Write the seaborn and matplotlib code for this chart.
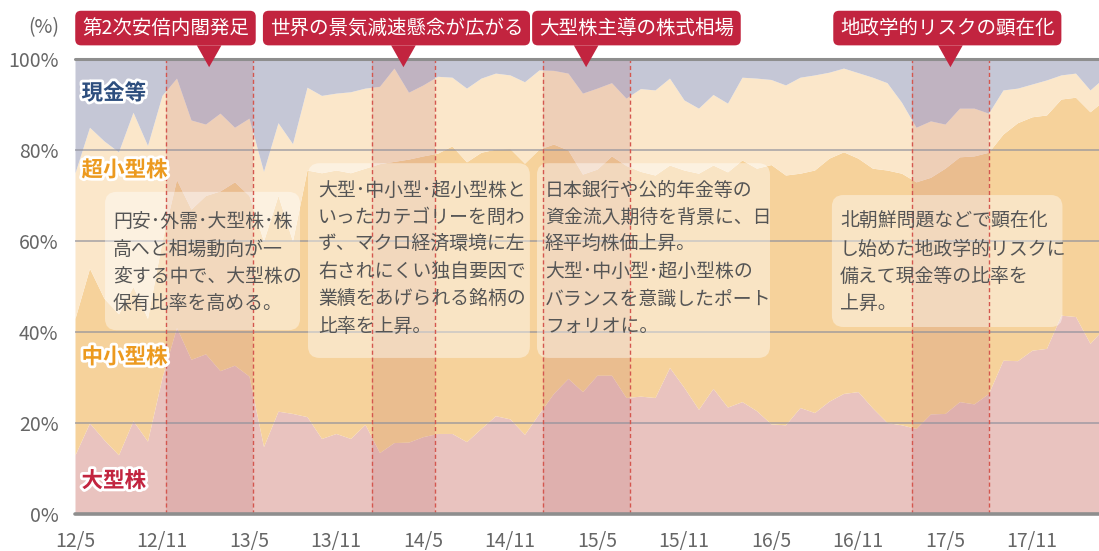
import numpy as np
import pandas as pd
import matplotlib.pyplot as plt
import matplotlib.patheffects as pe
from matplotlib.patches import FancyBboxPatch, Polygon
import seaborn as sns

# monthly allocation (%), 2012/5 - 2018/4 (last month is cut by the right edge)
months = pd.period_range('2012-05', periods=72, freq='M')
large = [13.0, 20.0, 16.3, 13.0, 20.5, 16.0, 30.0, 41.0, 34.0, 35.2, 31.5, 32.7,
         30.3, 14.8, 22.6, 22.1, 21.4, 16.6, 17.7, 16.6, 19.7, 13.5, 15.7, 15.8,
         17.0, 17.7, 17.7, 15.9, 18.8, 21.6, 20.9, 17.5, 22.1, 26.5, 29.8, 26.9,
         30.5, 30.5, 25.6, 25.9, 25.6, 32.2, 27.8, 23.0, 27.6, 23.5, 24.7, 22.7,
         19.8, 19.6, 23.4, 22.3, 24.8, 26.5, 26.9, 23.3, 20.1, 19.6, 18.8, 22.0,
         22.1, 24.7, 24.2, 26.5, 33.8, 33.7, 36.0, 36.4, 43.7, 43.4, 37.5, 41.0]
mid_small = [30.0, 34.0, 31.1, 31.0, 29.5, 27.0, 30.0, 32.5, 33.0, 34.8, 39.5, 40.3,
             39.7, 45.2, 47.4, 37.9, 54.2, 58.4, 57.9, 58.4, 56.3, 63.5, 61.8, 62.2,
             61.7, 61.6, 63.2, 61.5, 60.7, 58.6, 59.4, 59.6, 58.1, 54.8, 50.2, 47.8,
             45.3, 48.2, 51.0, 49.4, 48.9, 44.5, 47.8, 51.9, 49.1, 51.7, 53.1, 53.3,
             57.0, 54.9, 51.5, 53.3, 53.4, 53.1, 51.3, 52.7, 55.5, 55.3, 54.2, 52.0,
             53.9, 53.8, 54.5, 53.0, 49.7, 52.3, 51.3, 51.3, 47.5, 48.2, 50.9, 50.0]
micro = [32.0, 31.0, 34.6, 35.6, 38.3, 38.0, 32.0, 22.3, 19.6, 15.7, 17.1, 12.0,
         17.0, 15.3, 16.0, 21.4, 18.2, 17.0, 16.9, 17.8, 17.6, 17.0, 20.5, 14.7,
         15.6, 16.9, 15.1, 16.2, 16.3, 16.7, 16.2, 17.9, 17.4, 16.2, 16.9, 17.8,
         17.8, 16.1, 14.8, 18.2, 18.7, 19.1, 15.4, 14.3, 15.5, 15.1, 18.2, 19.8,
         18.7, 19.8, 21.1, 20.9, 18.9, 18.4, 18.8, 20.0, 19.2, 15.6, 12.0, 12.4,
         9.7, 10.7, 10.5, 8.6, 9.7, 7.6, 7.2, 7.7, 5.3, 5.3, 4.8, 5.0]
cash = [25.0, 15.0, 18.0, 20.4, 11.7, 19.0, 8.0, 4.2, 13.4, 14.3, 11.9, 15.0,
        13.0, 24.7, 14.0, 18.6, 6.2, 8.0, 7.5, 7.2, 6.4, 6.0, 2.0, 7.3,
        5.7, 3.8, 4.0, 6.4, 4.2, 3.1, 3.5, 5.0, 2.4, 2.5, 3.1, 7.5,
        6.4, 5.2, 8.6, 6.5, 6.8, 4.2, 9.0, 10.8, 7.8, 9.7, 4.0, 4.2,
        4.5, 5.7, 4.0, 3.5, 2.9, 2.0, 3.0, 4.0, 5.2, 9.5, 15.0, 13.6,
        14.3, 10.8, 10.8, 11.9, 6.8, 6.4, 5.5, 4.6, 3.5, 3.1, 6.8, 4.0]

series_names = ['大型株', '中小型株', '超小型株', '現金等']
series_colors = ['#E9C3BF', '#F6D29B', '#FBE7CA', '#C5C7D6']
label_colors = ['#C2243F', '#EC9A1F', '#EC9A1F', '#2D4E7E']
label_y = [7.3, 34.5, 75.6, 92.5]

xtick_labels = ['12/5', '12/11', '13/5', '13/11', '14/5', '14/11',
                '15/5', '15/11', '16/5', '16/11', '17/5', '17/11']

# event periods (month index) and their captions
band_start = [6.25, 20.45, 32.25, 57.75]
band_end = [12.25, 24.85, 38.25, 63.0]
band_titles = ['第2次安倍内閣発足', '世界の景気減速懸念が広がる',
               '大型株主導の株式相場', '地政学的リスクの顕在化']
title_x = [6.24, 22.17, 38.72, 60.16]

notes = [
    ['円安･外需･大型株･株', '高へと相場動向が一', '変する中で、大型株の', '保有比率を高める。'],
    ['大型･中小型･超小型株と', 'いったカテゴリーを問わ', 'ず、マクロ経済環境に左',
     '右されにくい独自要因で', '業績をあげられる銘柄の', '比率を上昇。'],
    ['日本銀行や公的年金等の', '資金流入期待を背景に、日', '経平均株価上昇。',
     '大型･中小型･超小型株の', 'バランスを意識したポート', 'フォリオに。'],
    ['北朝鮮問題などで顕在化', 'し始めた地政学的リスクに', '備えて現金等の比率を', '上昇。'],
]
note_box = [(2.07, 40.4, 13.45, 30.4), (16.07, 34.3, 15.3, 42.8),
            (31.86, 34.3, 16.07, 42.8), (52.2, 41.1, 15.9, 29.0)]
note_text_x = [2.62, 16.76, 32.41, 52.76]
note_text_y = [64.2, 71.2, 71.2, 64.2]

sns.set_style('white')
plt.rcParams['font.family'] = ['Noto Sans CJK JP', 'DejaVu Sans']

fig = plt.figure(figsize=(10.99, 5.51), dpi=100)
ax = fig.add_axes([75 / 1099, 37 / 551, 1024 / 1099, 455 / 551])

x = np.arange(len(months))
ax.stackplot(x, large, mid_small, micro, cash, colors=series_colors,
             linewidth=0, zorder=1)
ax.set_xlim(0, 1024 / 14.5)
ax.set_ylim(0, 100)

for yv in [20, 40, 60, 80]:
    ax.axhline(yv, color='#8E909C', lw=1.1, alpha=0.8, zorder=3)
ax.axhline(100, color='#8E8E8E', lw=2.2, zorder=6, clip_on=False)
ax.axhline(0, color='#8E8E8E', lw=2.6, zorder=6, clip_on=False)

# event bands
for a, b in zip(band_start, band_end):
    ax.axvspan(a, b, color='#A8464F', alpha=0.15, lw=0, zorder=2)
    for v in (a, b):
        ax.axvline(v, color='#D4574F', ls=(0, (3, 2)), lw=1.0, zorder=5)

# comment boxes
for (bx, by, bw, bh), tx, ty, lines in zip(note_box, note_text_x, note_text_y, notes):
    box = FancyBboxPatch((bx, by), bw, bh,
                         boxstyle='round,pad=0,rounding_size=0.8',
                         mutation_aspect=14.5 / 4.55,
                         fc='white', ec='none', alpha=0.42, zorder=4)
    ax.add_patch(box)
    for k, line in enumerate(lines):
        ax.text(tx, ty - k * 6.0, line, fontsize=13.6, color='#555555',
                ha='left', va='center', zorder=7)

# event captions
trans = ax.get_xaxis_transform()
for a, b, t, tx in zip(band_start, band_end, band_titles, title_x):
    tip = (a + b) / 2
    ax.add_patch(Polygon([(tip - 0.85, 1.03), (tip + 0.85, 1.03), (tip, 0.982)],
                         closed=True, fc='#C2243F', ec='none',
                         transform=trans, clip_on=False, zorder=8))
    ax.text(tx, 1.068, t, transform=trans, fontsize=14, color='white',
            ha='center', va='center', zorder=9,
            bbox=dict(boxstyle='round,pad=0.35,rounding_size=0.3',
                      fc='#C2243F', ec='none'))

# series names
for name, c, yv in zip(series_names, label_colors, label_y):
    ax.text(0.45, yv, name, fontsize=15.5, fontweight='bold', color=c,
            ha='left', va='center', zorder=7,
            path_effects=[pe.withStroke(linewidth=4, foreground='white')])

ax.set_xticks(x[:67:6])
ax.set_xticklabels(xtick_labels)
ax.set_yticks([0, 20, 40, 60, 80, 100])
ax.set_yticklabels([f'{v}%' for v in [0, 20, 40, 60, 80, 100]])
ax.tick_params(axis='x', direction='in', length=7, width=1.2, color='#666666',
               pad=12, labelsize=14, labelcolor='#666666')
ax.tick_params(axis='y', length=0, pad=12, labelsize=14, labelcolor='#666666')
for s in ax.spines.values():
    s.set_visible(False)
ax.grid(False)

fig.text(44 / 1099, 1 - 28 / 551, '(%)', fontsize=14, color='#666666',
         ha='center', va='center')

fig.savefig('out.png', dpi=100)
